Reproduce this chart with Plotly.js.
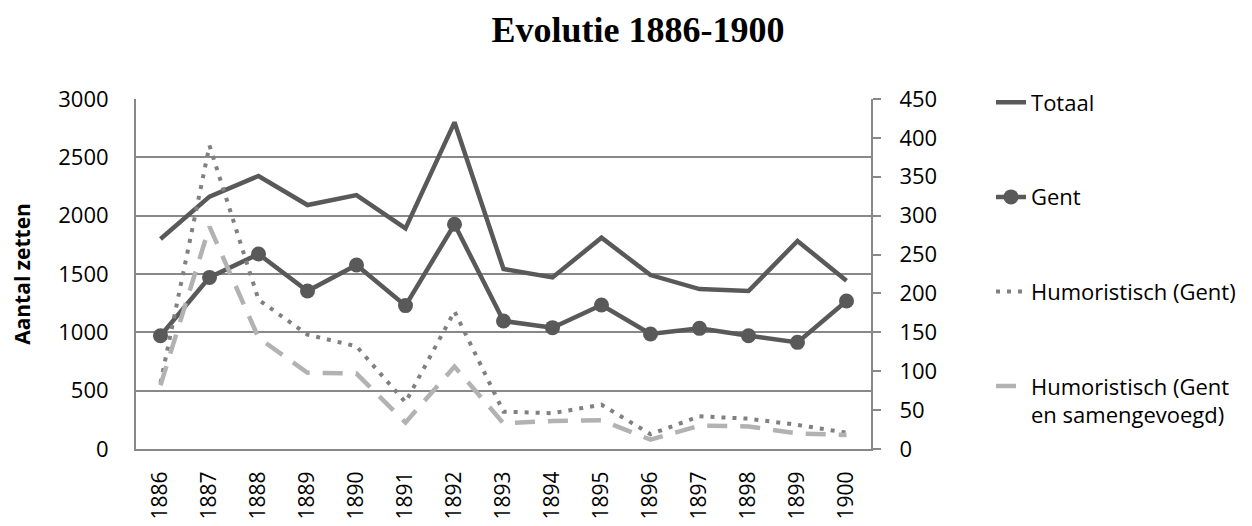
<!DOCTYPE html>
<html>
<head>
<meta charset="utf-8">
<script src="https://cdn.plot.ly/plotly-3.0.1.min.js"></script>
<style>html,body{margin:0;padding:0;background:#fff;}#chart{width:1252px;height:526px;}</style>
</head>
<body>
<div id="chart"></div>
<script>
const years = ['1886','1887','1888','1889','1890','1891','1892','1893','1894','1895','1896','1897','1898','1899','1900'];
const totaal = [1800, 2163, 2340, 2091, 2177, 1891, 2800, 1543, 1471, 1811, 1491, 1371, 1354, 1783, 1443];
const gent = [971, 1471, 1671, 1354, 1577, 1229, 1926, 1097, 1040, 1234, 986, 1034, 971, 914, 1269];
const humorGent = [85, 390, 192, 147, 132, 60, 177, 48, 46, 57, 19, 42, 39, 31, 21];
const humorSamen = [82, 286, 143, 98, 97, 34, 106, 33, 36, 37, 12, 30, 29, 20, 18];
const seriesNames = ['Totaal', 'Gent', 'Humoristisch (Gent)', 'Humoristisch (Gent<br>en samengevoegd)'];

const FONT = 'Open Sans, sans-serif';
const GRID = '#888888';

const traces = [
  {x: years, y: totaal, name: seriesNames[0], legendgroup: 'a', type: 'scatter', mode: 'lines',
   line: {color: '#595959', width: 4.5}, yaxis: 'y'},
  {x: years, y: gent, name: seriesNames[1], legendgroup: 'b', type: 'scatter', mode: 'lines+markers',
   line: {color: '#595959', width: 4.5}, marker: {color: '#595959', size: 15}, yaxis: 'y'},
  {x: years, y: humorGent, name: seriesNames[2], legendgroup: 'c', type: 'scatter', mode: 'lines',
   line: {color: '#808080', width: 4, dash: '4px,7px'}, yaxis: 'y2'},
  {x: years, y: humorSamen, name: seriesNames[3], legendgroup: 'd', type: 'scatter', mode: 'lines',
   line: {color: '#b2b2b2', width: 4.5, dash: '20px,13px'}, yaxis: 'y2'}
];

const layout = {
  width: 1252, height: 526,
  paper_bgcolor: '#ffffff', plot_bgcolor: '#ffffff',
  margin: {l: 136, r: 380, t: 99, b: 77},
  font: {family: FONT, size: 22, color: '#000000'},
  title: {text: 'Evolutie 1886-1900', font: {family: 'Liberation Serif, Times New Roman, serif', size: 36, color: '#000000', weight: 'bold'},
          x: 0.683, xref: 'paper', xanchor: 'center', y: 0.945, yref: 'container', yanchor: 'middle'},
  xaxis: {type: 'category', range: [-0.5, 14.5], tickangle: -90, showgrid: false, showline: true, linecolor: GRID, linewidth: 2,
          ticks: '', ticklabelstandoff: 12, tickfont: {family: FONT, size: 21}, zeroline: false, fixedrange: true},
  yaxis: {range: [0, 3000], dtick: 500, tick0: 0, showgrid: true, gridcolor: GRID, gridwidth: 2,
          showline: true, linecolor: GRID, linewidth: 2, ticks: '', ticklabelstandoff: 21, zeroline: false,
          tickfont: {family: FONT, size: 22},
          title: {text: 'Aantal zetten', font: {family: FONT, size: 21, weight: 'bold'}, standoff: 22},
          automargin: true},
  yaxis2: {range: [0, 450], dtick: 50, tick0: 0, overlaying: 'y', side: 'right', showgrid: false,
           showline: true, linecolor: GRID, linewidth: 2, ticks: 'outside', ticklen: 8, tickwidth: 2, tickcolor: GRID,
           ticklabelstandoff: 14, zeroline: false, tickfont: {family: FONT, size: 22}},
  showlegend: true,
  legend: {x: 1.1617, xanchor: 'left', xref: 'paper', y: 1.05, yanchor: 'top', yref: 'paper',
           font: {family: FONT, size: 22, color: '#000000'}, tracegroupgap: 63, valign: 'top',
           maxheight: 520, bgcolor: 'rgba(0,0,0,0)', traceorder: 'grouped'}
};

Plotly.newPlot('chart', traces, layout, {staticPlot: true, displayModeBar: false});
</script>
</body>
</html>
